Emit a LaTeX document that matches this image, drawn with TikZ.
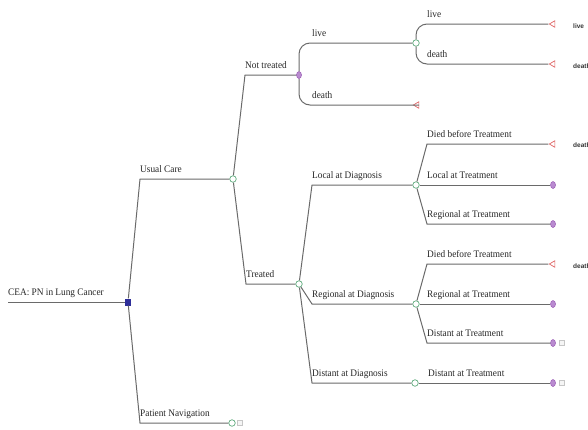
\documentclass[tikz,border=0pt]{standalone}
\usepackage{fontspec}
\newfontfamily\lblfont[FakeStretch=0.93]{Liberation Serif}
\newfontfamily\endfont{Liberation Sans}
\usetikzlibrary{shapes.geometric}
\definecolor{edgecol}{HTML}{6A6A6A}
\definecolor{chancecol}{HTML}{5DAA7C}
\definecolor{deccol}{HTML}{2E2E99}
\definecolor{markovfill}{HTML}{B98BD0}
\definecolor{markovdraw}{HTML}{9A5BB5}
\definecolor{termcol}{HTML}{E06666}
\tikzset{
  edge/.style={draw=edgecol, line width=1pt},
  curvedge/.style={edge, rounded corners=11pt},
  chance/.style={circle, draw=chancecol, fill=white, line width=0.7pt, minimum size=6.5pt, inner sep=0pt},
  decision/.style={rectangle, fill=deccol, minimum width=6pt, minimum height=7pt, inner sep=0pt},
  markov/.style={ellipse, draw=markovdraw, fill=markovfill, line width=0.5pt, minimum width=5pt, minimum height=7pt, inner sep=0pt},
  terminal/.style={isosceles triangle, isosceles triangle stretches, shape border rotate=180, draw=termcol, fill=white, line width=0.7pt, minimum width=6.5pt, minimum height=5.5pt, inner sep=0pt},
  smallbox/.style={rectangle, draw=gray!45, fill=gray!8, line width=0.4pt, minimum size=5pt, inner sep=0pt},
  lbl/.style={anchor=base west, inner sep=0pt, font=\lblfont\fontsize{10}{12}\selectfont, text=black!85},
  endlbl/.style={anchor=west, inner sep=0pt, font=\endfont\bfseries\fontsize{6.5}{8}\selectfont, text=black!80},
}
\begin{document}
\begin{tikzpicture}[x=1pt, y=-1pt]
\useasboundingbox (0,0) rectangle (588,429);
\clip (0,0) rectangle (588,429);

% nodes
\coordinate (start) at (8,302);
\node[decision] (dec) at (128,302) {};
\node[chance] (uc) at (233,179) {};
\node[chance] (pn) at (232,423) {};
\node[smallbox] (pnbox) at (240,423) {};
\node[markov] (nt) at (299,75) {};
\node[chance] (tr) at (299,284) {};
\node[chance] (live1) at (416,43) {};
\node[terminal] (death1) at (417,105) {};
\node[terminal] (tlive) at (553,24) {};
\node[terminal] (tdeath) at (553,64) {};
\node[chance] (loc) at (416,185) {};
\node[chance] (reg) at (416,304) {};
\node[chance] (dist) at (415,383) {};
\node[terminal] (t1) at (553,144) {};
\node[markov] (t2) at (553,185) {};
\node[markov] (t3) at (553,224) {};
\node[terminal] (t4) at (553,264) {};
\node[markov] (t5) at (553,304) {};
\node[markov] (t6) at (553,343) {};
\node[smallbox] (t6box) at (562,343) {};
\node[markov] (t7) at (553,383) {};
\node[smallbox] (t7box) at (562,383) {};

% edges
\draw[edge] (start) -- (dec);
\draw[edge] (dec) -- (140,179) -- (uc);
\draw[edge] (dec) -- (140,423) -- (pn);
\draw[edge] (uc) -- (245,75) -- (nt);
\draw[edge] (uc) -- (246,284) -- (tr);
\draw[curvedge] (nt.north) |- (live1.west);
\draw[curvedge] (nt.south) |- (death1.east);
\draw[curvedge] (live1.north) |- (tlive.west);
\draw[curvedge] (live1.south) |- (tdeath.west);
\draw[edge] (tr) -- (312,185) -- (loc);
\draw[edge] (tr) -- (312,304) -- (reg);
\draw[edge] (tr) -- (312,383) -- (dist);
\draw[edge] (loc) -- (427,144) -- (t1);
\draw[edge] (loc) -- (t2);
\draw[edge] (loc) -- (427,224) -- (t3);
\draw[edge] (reg) -- (427,264) -- (t4);
\draw[edge] (reg) -- (t5);
\draw[edge] (reg) -- (427,343) -- (t6);
\draw[edge] (dist) -- (t7);

% labels
\node[lbl] (l0) at (8,295) {CEA: PN in Lung Cancer};
\node[lbl] (l1) at (140,172) {Usual Care};
\node[lbl] (l2) at (140,416) {Patient Navigation};
\node[lbl] (l3) at (245,68) {Not treated};
\node[lbl] (l4) at (246,277) {Treated};
\node[lbl] (l5) at (312,36) {live};
\node[lbl] (l6) at (312,98) {death};
\node[lbl] (l7) at (427,17) {live};
\node[lbl] (l8) at (427,57) {death};
\node[lbl] (l9) at (312,178) {Local at Diagnosis};
\node[lbl] (l10) at (312,297) {Regional at Diagnosis};
\node[lbl] (l11) at (312,376) {Distant at Diagnosis};
\node[lbl] (l12) at (427,137) {Died before Treatment};
\node[lbl] (l13) at (427,178) {Local at Treatment};
\node[lbl] (l14) at (427,217) {Regional at Treatment};
\node[lbl] (l15) at (427,257) {Died before Treatment};
\node[lbl] (l16) at (427,297) {Regional at Treatment};
\node[lbl] (l17) at (427,336) {Distant at Treatment};
\node[lbl] (l18) at (428,376) {Distant at Treatment};

\node[endlbl] (e1) at (573,26) {live};
\node[endlbl] (e2) at (573,66) {death};
\node[endlbl] (e3) at (573,145) {death};
\node[endlbl] (e4) at (573,266) {death};
\end{tikzpicture}
\end{document}
